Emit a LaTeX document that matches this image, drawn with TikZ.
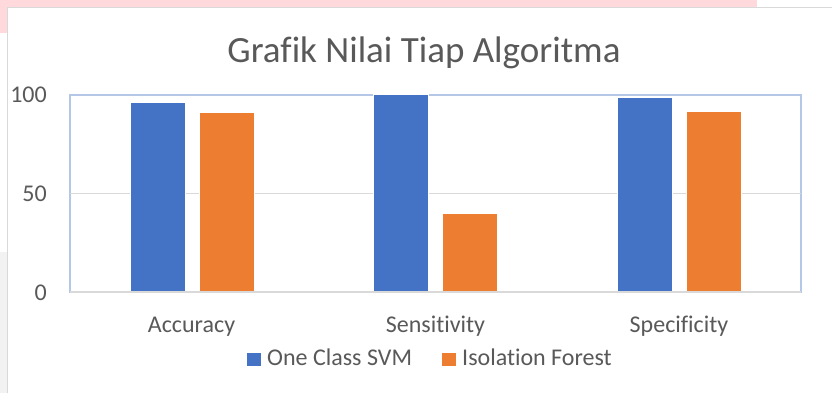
\documentclass[tikz,border=0pt]{standalone}
\usepackage{fontspec}
\setmainfont{Carlito}[Ligatures=NoCommon]
\definecolor{svmblue}{HTML}{4472C4}
\definecolor{iforange}{HTML}{ED7D31}
\definecolor{txtgray}{HTML}{595959}
\definecolor{gridgray}{HTML}{D9D9D9}
\definecolor{frameblue}{HTML}{B4C7E7}
\definecolor{pagepink}{HTML}{FFD9DC}
\definecolor{pagegray}{HTML}{F2F2F2}
\tikzset{
  bar/.style={draw=white, line width=0.6pt},
  svmbar/.style={bar, fill=svmblue},
  ifbar/.style={bar, fill=iforange},
  ticklabel/.style={text=txtgray, font=\fontsize{24}{24}\selectfont, inner sep=0pt},
  catlabel/.style={text=txtgray, font=\fontsize{24}{24}\selectfont, inner sep=0pt, anchor=base},
  legendkey/.style={inner sep=0pt, minimum size=13.5pt},
}
\begin{document}
\begin{tikzpicture}[x=1pt, y=-1pt]
\useasboundingbox (0,0) rectangle (832,393);
% page behind the chart
\fill[white] (0,0) rectangle (832,393);
\fill[pagepink] (0,0) rectangle (757,7);
\fill[pagepink] (0,0) rectangle (7,33);
\fill[pagegray] (0,252) rectangle (7,393);
% chart frame
\draw[gridgray, line width=1.6pt] (7.5,393) -- (7.5,7.5) -- (832,7.5);
% title
\node[text=txtgray, font=\fontsize{37}{37}\selectfont, inner sep=0pt, anchor=base] (title) at (424,63) {Grafik Nilai Tiap Algoritma};
% plot area: y = 292 - 1.97 * value
\draw[frameblue, line width=1.4pt] (70,95) rectangle (801,292);
\draw[gridgray, line width=1.6pt] (70,193.5) -- (801,193.5);
% bars
\node[svmbar, minimum width=55pt, minimum height=189pt, anchor=south west, inner sep=0pt] (a1) at (129.5,292) {};
\node[ifbar, minimum width=55pt, minimum height=179pt, anchor=south west, inner sep=0pt] (a2) at (198.5,292) {};
\node[svmbar, minimum width=55pt, minimum height=197pt, anchor=south west, inner sep=0pt] (s1) at (373,292) {};
\node[ifbar, minimum width=55pt, minimum height=78pt, anchor=south west, inner sep=0pt] (s2) at (442,292) {};
\node[svmbar, minimum width=55pt, minimum height=194pt, anchor=south west, inner sep=0pt] (p1) at (617,292) {};
\node[ifbar, minimum width=55pt, minimum height=180pt, anchor=south west, inner sep=0pt] (p2) at (686,292) {};
\draw[gridgray, line width=1.6pt] (70,292) -- (801,292);
% y tick labels
\node[ticklabel, anchor=east] (y100) at (47,95) {100};
\node[ticklabel, anchor=east] (y50) at (47,194) {50};
\node[ticklabel, anchor=east] (y0) at (47,293) {0};
% category labels
\node[catlabel] (c1) at (191.5,332) {Accuracy};
\node[catlabel] (c2) at (435.5,332) {Sensitivity};
\node[catlabel] (c3) at (679,332) {Specificity};
% legend
\node[legendkey, fill=svmblue, anchor=north west] (k1) at (247,352.5) {};
\node[catlabel, anchor=base west] (l1) at (267,365) {One Class SVM};
\node[legendkey, fill=iforange, anchor=north west] (k2) at (442,352.5) {};
\node[catlabel, anchor=base west] (l2) at (462,365) {Isolation Forest};
\end{tikzpicture}
\end{document}
